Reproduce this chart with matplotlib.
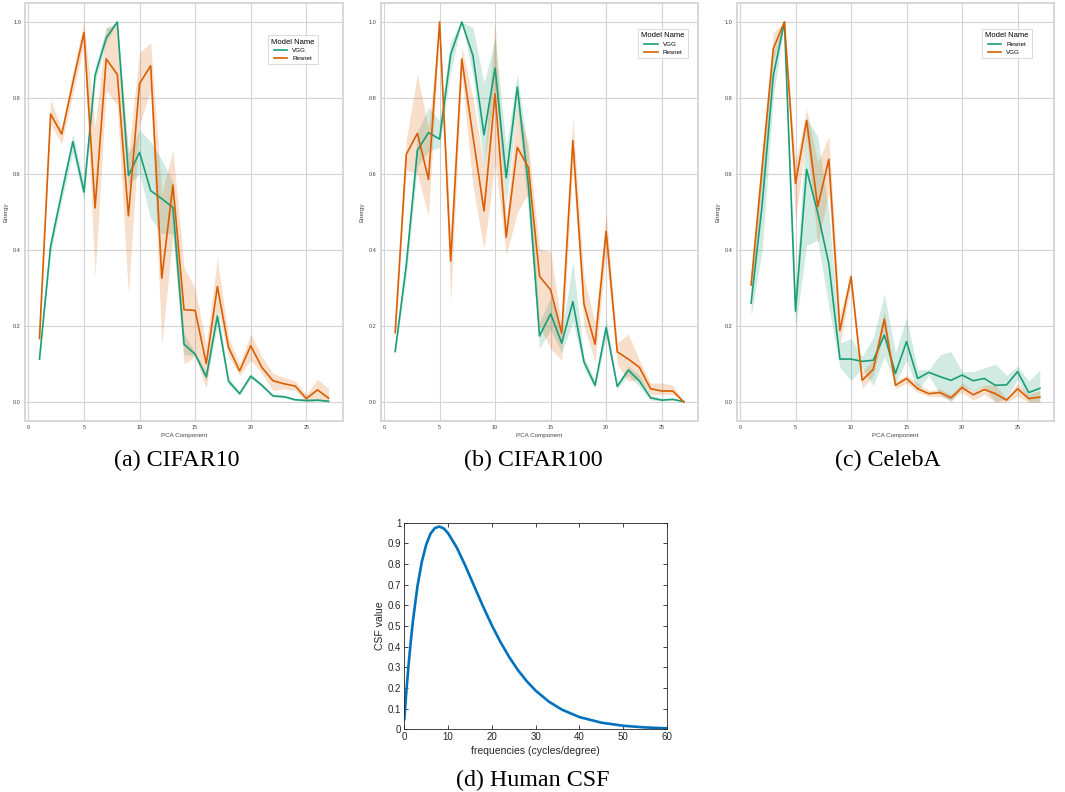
import matplotlib
matplotlib.use("Agg")
import matplotlib.pyplot as plt

GREEN = "#1b9e77"
ORANGE = "#d95f02"

pca_component = list(range(1, 28))

# (a) CIFAR10
cifar10_vgg = [0.113, 0.41, 0.55, 0.685, 0.553, 0.86, 0.958, 1.0, 0.596, 0.657, 0.556, 0.535, 0.512, 0.152,
               0.126, 0.066, 0.226, 0.055, 0.022, 0.068, 0.044, 0.016, 0.014, 0.006, 0.004, 0.005, 0.002]
cifar10_vgg_lo = [0.105, 0.39, 0.53, 0.655, 0.53, 0.84, 0.945, 1.0, 0.57, 0.6, 0.483, 0.443, 0.443, 0.125,
                  0.122, 0.055, 0.2, 0.045, 0.018, 0.062, 0.04, 0.013, 0.011, 0.003, 0.001, 0.002, 0.0]
cifar10_vgg_hi = [0.12, 0.43, 0.57, 0.707, 0.575, 0.88, 0.985, 1.0, 0.655, 0.716, 0.685, 0.637, 0.58, 0.18,
                  0.13, 0.08, 0.255, 0.065, 0.028, 0.074, 0.05, 0.02, 0.017, 0.009, 0.007, 0.008, 0.004]
cifar10_resnet = [0.167, 0.758, 0.705, 0.84, 0.972, 0.511, 0.903, 0.862, 0.49, 0.838, 0.885, 0.326, 0.571, 0.243,
                  0.241, 0.101, 0.304, 0.144, 0.082, 0.148, 0.091, 0.056, 0.048, 0.042, 0.009, 0.032, 0.01]
cifar10_resnet_lo = [0.155, 0.73, 0.68, 0.81, 0.94, 0.33, 0.82, 0.78, 0.283, 0.73, 0.82, 0.152, 0.44, 0.1,
                     0.12, 0.035, 0.25, 0.12, 0.07, 0.11, 0.075, 0.03, 0.035, 0.03, 0.0, 0.005, 0.0]
cifar10_resnet_hi = [0.18, 0.796, 0.72, 0.87, 1.0, 0.725, 0.985, 0.99, 0.655, 0.92, 0.945, 0.55, 0.663, 0.355,
                     0.298, 0.15, 0.379, 0.17, 0.1, 0.179, 0.12, 0.075, 0.065, 0.055, 0.02, 0.06, 0.035]

# (b) CIFAR100
cifar100_vgg = [0.133, 0.36, 0.662, 0.709, 0.692, 0.915, 1.0, 0.912, 0.703, 0.879, 0.59, 0.829, 0.57, 0.174,
                0.232, 0.155, 0.264, 0.106, 0.044, 0.196, 0.041, 0.084, 0.055, 0.011, 0.005, 0.007, 0.001]
cifar100_vgg_lo = [0.125, 0.33, 0.62, 0.66, 0.67, 0.87, 1.0, 0.86, 0.62, 0.83, 0.52, 0.78, 0.5, 0.141,
                   0.19, 0.13, 0.21, 0.09, 0.035, 0.17, 0.035, 0.07, 0.04, 0.005, 0.002, 0.004, 0.0]
cifar100_vgg_hi = [0.14, 0.39, 0.71, 0.775, 0.74, 0.95, 1.0, 0.985, 0.84, 0.956, 0.67, 0.864, 0.65, 0.21,
                   0.276, 0.18, 0.37, 0.12, 0.055, 0.22, 0.05, 0.095, 0.07, 0.018, 0.01, 0.01, 0.002]
cifar100_resnet = [0.183, 0.652, 0.707, 0.586, 1.0, 0.371, 0.903, 0.70, 0.503, 0.811, 0.434, 0.67, 0.617, 0.331,
                   0.295, 0.181, 0.688, 0.258, 0.152, 0.449, 0.132, 0.113, 0.091, 0.035, 0.029, 0.029, 0.0]
cifar100_resnet_lo = [0.17, 0.61, 0.6, 0.49, 0.98, 0.263, 0.86, 0.57, 0.4, 0.63, 0.386, 0.5, 0.55, 0.2,
                      0.14, 0.111, 0.62, 0.2, 0.105, 0.39, 0.1, 0.055, 0.06, 0.02, 0.02, 0.02, 0.0]
cifar100_resnet_hi = [0.2, 0.69, 0.862, 0.72, 1.0, 0.45, 0.935, 0.8, 0.62, 1.0, 0.48, 0.78, 0.68, 0.403,
                      0.395, 0.2, 0.747, 0.33, 0.21, 0.5, 0.155, 0.179, 0.11, 0.05, 0.05, 0.045, 0.0]

# (c) CelebA
celeba_resnet = [0.26, 0.52, 0.859, 1.0, 0.239, 0.612, 0.498, 0.364, 0.113, 0.113, 0.107, 0.11, 0.176, 0.075,
                 0.159, 0.062, 0.078, 0.067, 0.057, 0.071, 0.056, 0.062, 0.044, 0.045, 0.08, 0.025, 0.036]
celeba_resnet_lo = [0.226, 0.4, 0.8, 1.0, 0.194, 0.412, 0.426, 0.25, 0.091, 0.056, 0.09, 0.042, 0.12, 0.05,
                    0.11, 0.03, 0.07, 0.02, 0.0, 0.04, 0.03, 0.04, 0.0, 0.01, 0.06, 0.0, 0.0]
celeba_resnet_hi = [0.3, 0.646, 0.92, 1.0, 0.29, 0.747, 0.699, 0.5, 0.155, 0.167, 0.12, 0.17, 0.285, 0.13,
                    0.223, 0.085, 0.085, 0.124, 0.133, 0.08, 0.08, 0.09, 0.1, 0.07, 0.095, 0.055, 0.084]
celeba_vgg = [0.308, 0.62, 0.93, 1.0, 0.575, 0.741, 0.514, 0.639, 0.188, 0.33, 0.057, 0.086, 0.218, 0.044,
              0.062, 0.035, 0.022, 0.025, 0.011, 0.038, 0.019, 0.033, 0.022, 0.005, 0.035, 0.009, 0.013]
celeba_vgg_lo = [0.28, 0.58, 0.9, 1.0, 0.478, 0.7, 0.417, 0.55, 0.15, 0.31, 0.035, 0.07, 0.19, 0.035,
                 0.05, 0.025, 0.015, 0.015, 0.005, 0.025, 0.005, 0.02, 0.0, 0.0, 0.015, 0.0, 0.0]
celeba_vgg_hi = [0.33, 0.66, 0.972, 1.0, 0.63, 0.771, 0.63, 0.699, 0.23, 0.34, 0.08, 0.11, 0.24, 0.055,
                 0.07, 0.05, 0.03, 0.035, 0.02, 0.05, 0.03, 0.045, 0.045, 0.01, 0.05, 0.02, 0.03]

# (d) Human CSF
csf_freq = [0, 0.5, 1, 1.5, 2, 3, 4, 5, 6, 7, 8, 9, 10, 12, 14, 16, 18, 20, 22, 24, 26, 28, 30,
            33, 36, 40, 45, 50, 55, 60]
csf_value = [0.050, 0.190, 0.316, 0.428, 0.528, 0.691, 0.810, 0.893, 0.947, 0.974, 0.981, 0.972, 0.949,
             0.879, 0.789, 0.691, 0.594, 0.503, 0.421, 0.348, 0.285, 0.232, 0.187, 0.134, 0.095, 0.059,
             0.032, 0.017, 0.009, 0.0045]

plt.rcParams["font.family"] = ["Liberation Sans", "DejaVu Sans"]

fig = plt.figure(figsize=(10.65, 7.92), dpi=100)


def energy_panel(rect, series, legend_anchor):
    ax = fig.add_axes(rect)
    for name, mean, lo, hi, color in series:
        ax.fill_between(pca_component, lo, hi, color=color, alpha=0.2, linewidth=0)
        ax.plot(pca_component, mean, color=color, linewidth=1.2, label=name)
    ax.set_xlim(-0.3, 28.3)
    ax.set_ylim(-0.05, 1.05)
    ax.set_xticks([0, 5, 10, 15, 20, 25])
    ax.set_yticks([0.0, 0.2, 0.4, 0.6, 0.8, 1.0])
    ax.grid(True, color="#d4d4d4", linewidth=0.8)
    ax.set_axisbelow(True)
    for s in ax.spines.values():
        s.set_color("#d4d4d4")
        s.set_linewidth(1.3)
    ax.tick_params(length=0, labelsize=4, labelcolor="#444444", pad=3)
    ax.set_xlabel("PCA Component", fontsize=4.5, color="#444444", labelpad=2)
    ax.set_ylabel("Energy", fontsize=4.5, color="#444444", labelpad=3)
    leg = ax.legend(title="Model Name", loc="upper right", bbox_to_anchor=legend_anchor,
                    fontsize=4.5, title_fontsize=5.5, frameon=True, fancybox=False,
                    handlelength=2.2, borderpad=0.5, labelspacing=0.4)
    leg.get_frame().set_edgecolor("#d4d4d4")
    leg.get_frame().set_linewidth(0.8)
    return ax


energy_panel([0.0235, 0.4684, 0.2986, 0.5278],
             [("VGG", cifar10_vgg, cifar10_vgg_lo, cifar10_vgg_hi, GREEN),
              ("Resnet", cifar10_resnet, cifar10_resnet_lo, cifar10_resnet_hi, ORANGE)],
             (0.93, 0.93))
energy_panel([0.3575, 0.4684, 0.2982, 0.5278],
             [("VGG", cifar100_vgg, cifar100_vgg_lo, cifar100_vgg_hi, GREEN),
              ("Resnet", cifar100_resnet, cifar100_resnet_lo, cifar100_resnet_hi, ORANGE)],
             (0.977, 0.945))
energy_panel([0.6917, 0.4684, 0.2982, 0.5278],
             [("Resnet", celeba_resnet, celeba_resnet_lo, celeba_resnet_hi, GREEN),
              ("VGG", celeba_vgg, celeba_vgg_lo, celeba_vgg_hi, ORANGE)],
             (0.939, 0.945))

# MATLAB-style CSF panel
axd = fig.add_axes([0.3796, 0.0792, 0.2467, 0.2609])
axd.plot(csf_freq, csf_value, color="#0072BD", linewidth=1.9)
axd.set_xlim(0, 60)
axd.set_ylim(0, 1)
axd.set_xticks([0, 10, 20, 30, 40, 50, 60])
axd.set_yticks([i / 10 for i in range(11)])
axd.set_yticklabels(["0", "0.1", "0.2", "0.3", "0.4", "0.5", "0.6", "0.7", "0.8", "0.9", "1"])
axd.tick_params(direction="in", top=True, right=True, length=3, width=0.6,
                labelsize=7, colors="#262626", pad=2)
for s in axd.spines.values():
    s.set_color("#262626")
    s.set_linewidth(0.6)
axd.set_xlabel("frequencies (cycles/degree)", fontsize=7.5, color="#262626", labelpad=2.5)
axd.set_ylabel("CSF value", fontsize=7.5, color="#262626", labelpad=2)

caption = dict(fontsize=17.3, family="Liberation Serif", ha="center", va="center")
fig.text(177 / 1065, 1 - 460 / 792, "(a) CIFAR10", **caption)
fig.text(533 / 1065, 1 - 460 / 792, "(b) CIFAR100", **caption)
fig.text(888 / 1065, 1 - 460 / 792, "(c) CelebA", **caption)
fig.text(533 / 1065, 1 - 780 / 792, "(d) Human CSF", **caption)

fig.savefig("out.png", dpi=100)
